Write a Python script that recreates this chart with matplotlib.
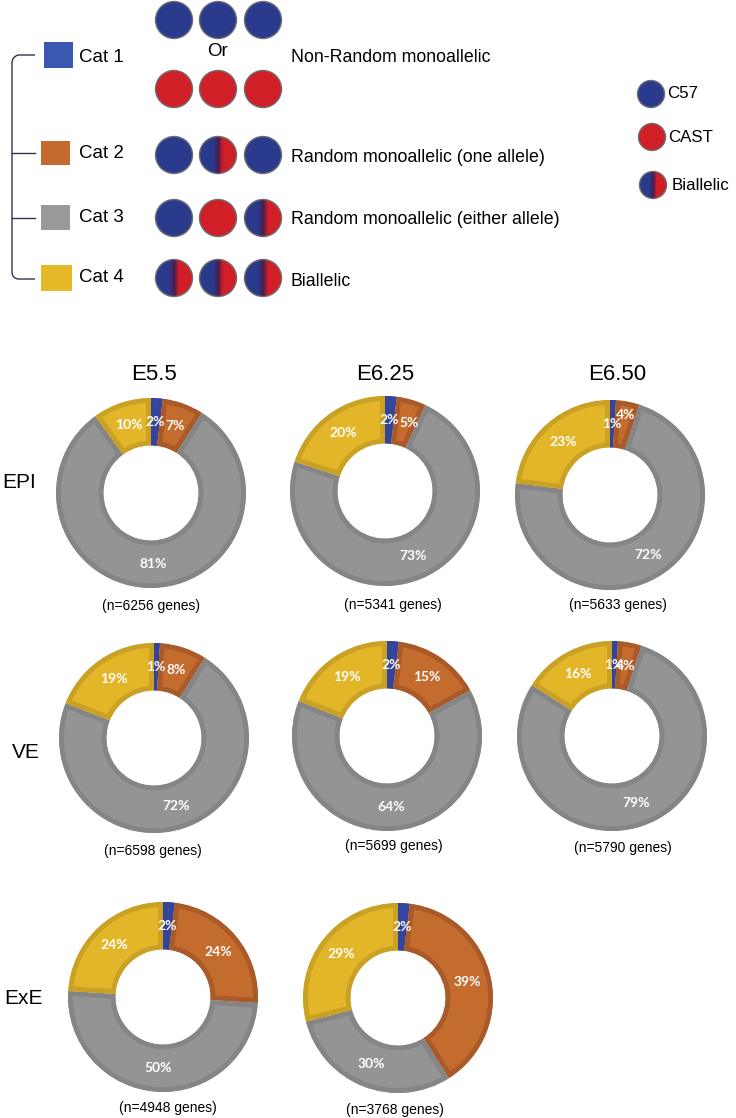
import matplotlib
matplotlib.use("Agg")
import matplotlib.pyplot as plt
import numpy as np
from matplotlib.patches import Ellipse, Rectangle
from matplotlib.colors import LinearSegmentedColormap
from matplotlib.path import Path
from matplotlib.patches import PathPatch

# ---------------- data ----------------
categories = ["Cat 1", "Cat 2", "Cat 3", "Cat 4"]
category_desc = ["Non-Random monoallelic", "Random monoallelic (one allele)",
                 "Random monoallelic (either allele)", "Biallelic"]
stages = ["E5.5", "E6.25", "E6.50"]
tissues = ["EPI", "VE", "ExE"]

epi_values = [[2, 7, 81, 10], [2, 5, 73, 20], [1, 4, 72, 23]]
ve_values = [[1, 8, 72, 19], [2, 15, 64, 19], [1, 4, 79, 16]]
exe_values = [[2, 24, 50, 24], [2, 39, 30, 29]]

epi_n = [6256, 5341, 5633]
ve_n = [6598, 5699, 5790]
exe_n = [4948, 3768]

allele_legend = ["C57", "CAST", "Biallelic"]

# ---------------- style ----------------
W, H = 736, 1118
fill_colors = ["#3c4ea6", "#c46b2e", "#949494", "#e3b62a"]
edge_colors = ["#34449a", "#a95a28", "#858585", "#c9a125"]
square_colors = ["#3a58b0", "#c46a30", "#999999", "#e5b928"]
BLUE = "#2a3a8c"
RED = "#d01f27"
OUT = "#6e6e6e"
SANS = ["Liberation Sans", "DejaVu Sans"]

fig = plt.figure(figsize=(W / 100, H / 100), dpi=100)
ax = fig.add_axes([0, 0, 1, 1])
ax.set_xlim(0, W)
ax.set_ylim(H, 0)
ax.axis("off")

grad_cmap = LinearSegmentedColormap.from_list(
    "bial", [(0, BLUE), (0.36, BLUE), (0.5, "#4a1c4c"), (0.62, RED), (1, RED)])


def circle(cx, cy, r, kind):
    e = Ellipse((cx, cy), 2 * r, 2 * r, facecolor="none", edgecolor=OUT, lw=1.0, zorder=4)
    if kind in ("b", "r"):
        bg = Ellipse((cx, cy), 2 * r, 2 * r, facecolor=BLUE if kind == "b" else RED,
                     edgecolor="none", zorder=2)
        ax.add_patch(bg)
    else:
        bg = Ellipse((cx, cy), 2 * r, 2 * r, facecolor="none", edgecolor="none", zorder=2)
        ax.add_patch(bg)
        grad = np.linspace(0, 1, 200).reshape(1, -1)
        im = ax.imshow(grad, cmap=grad_cmap, extent=(cx - r, cx + r, cy + r, cy - r),
                       aspect="auto", zorder=3, interpolation="bilinear")
        im.set_clip_path(bg)
    ax.add_patch(e)


# ---------- top legend ----------
verts = [(35, 55), (18, 55), (12, 57), (12, 63), (12, 272), (12, 278), (18, 279), (35, 279)]
codes = [Path.MOVETO, Path.LINETO, Path.CURVE3, Path.CURVE3, Path.LINETO, Path.CURVE3,
         Path.CURVE3, Path.LINETO]
ax.add_patch(PathPatch(Path(verts, codes), facecolor="none", edgecolor="#2e3450", lw=1.0))
for yy in [153, 218]:
    ax.plot([12, 35], [yy, yy], color="#2e3450", lw=1.0)

sq = [(44, 42, 29, 26), (41, 141, 29, 24), (41, 205, 29, 25), (41, 265, 31, 26)]
txt_y = [57, 154, 218, 278]
for i, (x0, y0, w, h) in enumerate(sq):
    ax.add_patch(Rectangle((x0, y0), w, h, facecolor=square_colors[i], edgecolor="none"))
    ax.text(79, txt_y[i], categories[i], fontsize=13.5, family=SANS, va="center", ha="left")

xs = [174, 218, 263]
rr = 18.5
for x in xs:
    circle(x, 20, rr, "b")
    circle(x, 89, rr, "r")
ax.text(218, 52, "Or", fontsize=13.5, family=SANS, va="center", ha="center")
row_kinds = [["b", "g", "b"], ["b", "r", "g"], ["g", "g", "g"]]
row_y = [155, 218, 278]
for ky, kinds in zip(row_y, row_kinds):
    for x, k in zip(xs, kinds):
        circle(x, ky, rr, k)

desc_y = [57, 157, 219, 281]
for d, yy in zip(category_desc, desc_y):
    ax.text(291, yy, d, fontsize=12.8, family=SANS, va="center", ha="left")

# right legend
leg_pos = [(651, 94, 667), (652, 137, 668), (653, 185, 672)]
for (cx, cy, tx), lab, k in zip(leg_pos, allele_legend, ["b", "r", "g"]):
    circle(cx, cy, 13.5, k)
    ax.text(tx, cy, lab, fontsize=12.2, family=SANS, va="center", ha="left")

# ---------- donuts ----------
R = 95
centers = {
    "EPI": [(151, 493), (385, 491), (610, 495)],
    "VE": [(154, 738), (387, 736), (612, 736)],
    "ExE": [(163, 997), (398, 998)],
}
n_pos = {
    "EPI": [(151, 606), (393, 605), (618, 605)],
    "VE": [(153, 851), (394, 846), (623, 848)],
    "ExE": [(168, 1108), (395, 1110)],
}
row_label_pos = {"EPI": (2, 482), "VE": (12, 752), "ExE": (4, 998)}
values = {"EPI": epi_values, "VE": ve_values, "ExE": exe_values}
ns = {"EPI": epi_n, "VE": ve_n, "ExE": exe_n}

for j, st in enumerate(stages):
    ax.text([154, 385, 617][j], 374, st, fontsize=16, family=SANS, ha="center", va="center")

for t in tissues:
    lx, ly = row_label_pos[t]
    ax.text(lx, ly, t, fontsize=15, family=SANS, ha="left", va="center")
    for k, vals in enumerate(values[t]):
        cx, cy = centers[t][k]
        dax = fig.add_axes([(cx - R) / W, 1 - (cy + R) / H, 2 * R / W, 2 * R / H])
        wedges, texts, autotexts = dax.pie(
            vals, colors=fill_colors, startangle=90, counterclock=False, radius=1,
            wedgeprops=dict(width=0.5, linewidth=0),
            autopct=lambda p: f"{p:.0f}%", pctdistance=0.75,
            textprops=dict(color="white", fontsize=10, fontweight="bold",
                           family=["Lato", "DejaVu Sans"]))
        for w, ec in zip(wedges, edge_colors):
            w.set_edgecolor(ec)
            w.set_linewidth(7)
            w.set_clip_on(True)
            w.set_clip_path(w)
        # nudge crowded small-slice labels the way the reference shows them
        if t == "EPI" and k == 2:
            x0, y0 = autotexts[1].get_position()
            autotexts[1].set_position((x0 * 1.15, y0 * 1.15))
        if t == "EPI" and k == 1:
            x0, y0 = autotexts[1].get_position()
            autotexts[1].set_position((x0 + 0.05, y0))
        dax.set_xlim(-1, 1)
        dax.set_ylim(-1, 1)
        dax.axis("off")
        nx, ny = n_pos[t][k]
        ax.text(nx, ny, f"(n={ns[t][k]} genes)", fontsize=10, family=SANS, ha="center", va="center")

fig.savefig("out.png", dpi=100)
